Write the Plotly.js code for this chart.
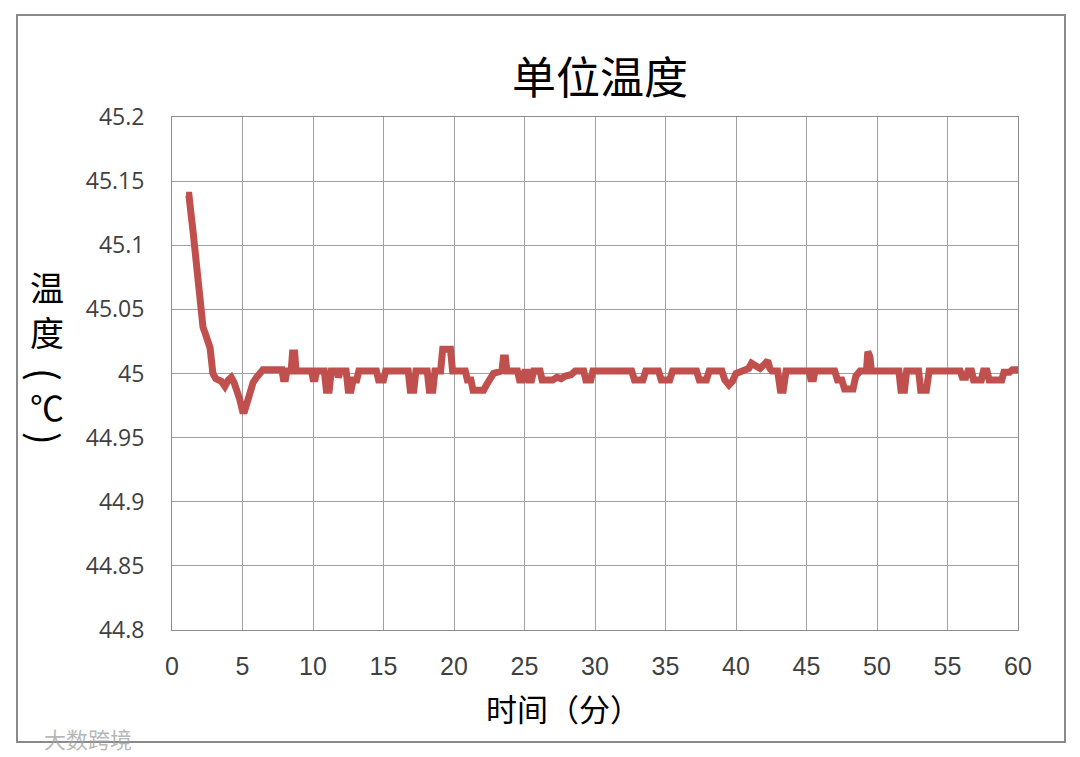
<!DOCTYPE html>
<html>
<head>
<meta charset="utf-8">
<script src="https://cdn.plot.ly/plotly-3.0.1.min.js"></script>
<style>html,body{margin:0;padding:0;background:#fff;}#chart{width:1080px;height:757px;}</style>
</head>
<body>
<div id="chart"></div>
<script>
const chartTitle = "单位温度";
const xAxisTitle = "时间（分）";
const yAxisTitleChars = ["温", "度", "(", "℃", ")"];
const xTickVals = [0, 5, 10, 15, 20, 25, 30, 35, 40, 45, 50, 55, 60];
const yTickVals = [44.8, 44.85, 44.9, 44.95, 45, 45.05, 45.1, 45.15, 45.2];
const yTickText = ["44.8", "44.85", "44.9", "44.95", "45", "45.05", "45.1", "45.15", "45.2"];

const timeMin = [1.0, 1.2, 1.5, 2.2, 2.4, 2.7, 2.9, 3.1, 3.5, 3.75, 4.0, 4.2, 4.4, 4.55, 4.8, 5.0, 5.15, 5.4, 5.75, 6.0, 6.25, 6.45,
  7.8, 7.9, 8.05, 8.15, 8.45, 8.55, 8.7, 8.8, 9.9, 10.0, 10.15, 10.25, 10.8, 10.95, 11.15, 11.3, 11.7, 11.8, 11.95,
  12.35, 12.5, 12.7, 12.85, 13.1, 13.25, 14.5, 14.65, 15.0, 15.15, 16.75, 16.9, 17.15, 17.3, 18.1, 18.25, 18.5, 18.65,
  19.05, 19.2, 19.75, 19.9, 20.8, 20.95, 21.2, 21.35, 22.1, 22.3, 22.55, 22.8, 23.4, 23.5, 23.65, 23.75, 24.5, 24.65,
  24.85, 25.0, 25.2, 25.3, 25.5, 25.65, 26.1, 26.25, 27.0, 27.3, 27.6, 27.9, 28.3, 28.6, 29.2, 29.35, 29.7, 29.85,
  32.6, 32.8, 33.4, 33.6, 34.5, 34.7, 35.3, 35.5, 37.2, 37.4, 37.9, 38.1, 39.0, 39.2, 39.5, 39.75, 40.0, 40.5, 40.9,
  41.1, 41.5, 41.7, 42.0, 42.25, 42.4, 42.55, 42.95, 43.15, 43.35, 43.55, 45.2, 45.3, 45.5, 45.6, 47.0, 47.2, 47.5,
  47.7, 48.3, 48.5, 48.8, 49.25, 49.35, 49.5, 49.6, 51.55, 51.7, 51.95, 52.1, 52.95, 53.1, 53.5, 53.7, 55.9, 56.05,
  56.3, 56.45, 56.7, 56.85, 57.4, 57.55, 57.8, 57.95, 58.85, 59.0, 59.4, 59.6, 60.0];
const tempC = [45.139, 45.139, 45.11, 45.036, 45.03, 45.02, 45.0, 44.996, 44.994, 44.99, 44.995, 44.997, 44.993, 44.989, 44.98, 44.971, 44.971, 44.98, 44.993, 44.997, 45.0, 45.003,
  45.003, 44.996, 44.996, 45.002, 45.002, 45.016, 45.016, 45.002, 45.002, 44.996, 44.996, 45.002, 45.002, 44.987, 44.987, 45.002, 45.002, 44.997, 45.002,
  45.002, 44.987, 44.987, 44.995, 44.995, 45.002, 45.002, 44.995, 44.995, 45.002, 45.002, 44.987, 44.987, 45.002, 45.002, 44.987, 44.987, 45.002,
  45.002, 45.019, 45.019, 45.002, 45.002, 44.995, 44.995, 44.987, 44.987, 44.991, 44.996, 45.0, 45.002, 45.012, 45.012, 45.002, 45.002, 44.995,
  44.995, 45.001, 45.001, 44.995, 44.995, 45.002, 45.002, 44.995, 44.995, 44.997, 44.996, 44.998, 44.999, 45.002, 45.002, 44.995, 44.995, 45.002,
  45.002, 44.995, 44.995, 45.002, 45.002, 44.995, 44.995, 45.002, 45.002, 44.995, 44.995, 45.002, 45.002, 44.995, 44.991, 44.994, 45.0, 45.003, 45.004,
  45.008, 45.006, 45.004, 45.007, 45.01, 45.004, 45.002, 45.002, 44.987, 44.987, 45.002, 45.002, 44.996, 44.996, 45.002, 45.002, 44.995, 44.995,
  44.988, 44.988, 44.998, 45.002, 45.002, 45.017, 45.013, 45.002, 45.002, 44.987, 44.987, 45.002, 45.002, 44.987, 44.987, 45.002, 45.002, 44.997,
  44.997, 45.002, 45.002, 44.995, 44.995, 45.002, 45.002, 44.995, 44.995, 45.001, 45.001, 45.003, 45.003];

const L = 172, R = 62, T = 117, B = 127, W = 1080, H = 757;
const pw = W - L - R, ph = H - T - B;
const px2x = p => (p - L) / pw;
const py2y = p => (H - B - p) / ph;

const trace = {
  x: timeMin, y: tempC, type: "scatter", mode: "lines",
  line: {color: "#C0504D", width: 7, shape: "linear"},
  hoverinfo: "x+y"
};

const yTitleY = [286, 331, 374, 406, 438];
const yTitleRot = [0, 0, 90, 0, 90];
const yTitleSize = [34, 34, 38, 34, 38];
const yTitleAnn = yAxisTitleChars.map((c, i) => ({
  text: c, xref: "paper", yref: "paper", x: px2x(47), y: py2y(yTitleY[i]),
  xanchor: "center", yanchor: "middle", showarrow: false, textangle: yTitleRot[i],
  font: {size: yTitleSize[i], color: "#000", family: "Noto Sans CJK SC"}
}));

const layout = {
  width: W, height: H,
  margin: {l: L, r: R, t: T, b: B},
  paper_bgcolor: "#ffffff", plot_bgcolor: "#ffffff",
  showlegend: false,
  font: {family: "Noto Sans CJK SC, Noto Sans, sans-serif", color: "#000"},
  xaxis: {
    range: [0, 60], tickvals: xTickVals, ticktext: xTickVals.map(String),
    showgrid: true, gridcolor: "#a0a0a0", gridwidth: 1,
    showline: true, linecolor: "#8c8c8c", linewidth: 1, mirror: true,
    zeroline: false, ticks: "", ticklen: 0, ticklabelstandoff: 14,
    tickfont: {family: "Liberation Sans Narrow, Liberation Sans, sans-serif", size: 25, color: "#404040"},
    fixedrange: true
  },
  yaxis: {
    range: [44.8, 45.2], tickvals: yTickVals, ticktext: yTickText,
    showgrid: true, gridcolor: "#a0a0a0", gridwidth: 1,
    showline: true, linecolor: "#8c8c8c", linewidth: 1, mirror: true,
    zeroline: false, ticks: "", ticklen: 0, ticklabelstandoff: 22,
    tickfont: {family: "Open Sans, Liberation Sans, sans-serif", size: 23, color: "#404040"},
    fixedrange: true
  },
  shapes: [{
    type: "rect", xref: "paper", yref: "paper",
    x0: px2x(17), x1: px2x(1065), y0: py2y(742), y1: py2y(15),
    line: {color: "#8a8a8a", width: 2}, fillcolor: "rgba(0,0,0,0)", layer: "below"
  }],
  annotations: [
    {text: chartTitle, xref: "paper", yref: "paper", x: px2x(600), y: py2y(75),
     xanchor: "center", yanchor: "middle", showarrow: false,
     font: {size: 44, color: "#000", family: "Noto Sans CJK SC"}},
    {text: xAxisTitle, xref: "paper", yref: "paper", x: px2x(563), y: py2y(708),
     xanchor: "center", yanchor: "middle", showarrow: false,
     font: {size: 31, color: "#000", family: "Noto Sans CJK SC"}},
    ...yTitleAnn,
    {text: "大数跨境", xref: "paper", yref: "paper",
     x: px2x(42), y: py2y(738), xanchor: "left", yanchor: "middle", showarrow: false,
     font: {size: 22, color: "rgba(160,160,160,0.75)", family: "Noto Sans CJK SC"}}
  ]
};

Plotly.newPlot("chart", [trace], layout, {displayModeBar: false, staticPlot: true});
</script>
</body>
</html>
